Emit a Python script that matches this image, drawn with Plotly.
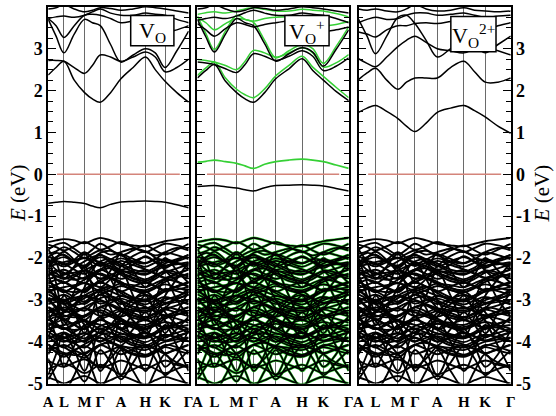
import plotly.graph_objects as go

# ---------------- data ----------------
k_pos = [0, 8, 16, 26.5, 37, 45, 53, 63.5, 74, 86.5, 99, 109, 119, 131, 143]
sym_pos = [0, 16, 37, 53, 74, 99, 119, 143]
sym_labels = ["A", "L", "M", "Γ", "A", "H", "K", "Γ"]
e_ticks = [-5, -4, -3, -2, -1, 0, 1, 2, 3, 4]
e_ticktext = ["-5", "-4", "-3", "-2", "-1", "0", "1", "2", "3", "4"]
fermi_k = [9, 134]
fermi_e = [0, 0]

# conduction bands, panel 1 (V_O)
cb_vo = [
    [2.37, 2.55, 2.70, 2.25, 1.95, 1.80, 1.72, 1.95, 2.28, 2.55, 2.80, 2.50, 2.22, 1.95, 1.72],
    [2.72, 2.72, 2.70, 2.55, 2.41, 2.60, 2.85, 2.80, 2.70, 2.80, 2.92, 2.80, 2.45, 2.55, 2.75],
    [3.70, 3.30, 2.90, 3.35, 3.70, 3.62, 3.55, 3.10, 2.68, 2.85, 3.00, 2.90, 2.55, 2.95, 3.42],
    [3.72, 3.55, 3.27, 3.55, 3.80, 3.82, 3.80, 3.72, 3.62, 3.66, 3.70, 3.55, 3.40, 3.45, 3.55],
    [3.72, 3.76, 3.78, 3.75, 3.80, 3.88, 3.95, 3.85, 3.80, 3.80, 3.85, 3.82, 3.80, 3.70, 3.62],
    [3.95, 3.98, 4.05, 3.95, 3.88, 3.92, 3.98, 3.96, 3.92, 3.95, 4.00, 3.98, 3.95, 3.90, 3.85],
]
# panel 2 (V_O^+), spin down (black) and spin up (green)
cb_vop_dn = [
    [2.30, 2.48, 2.62, 2.22, 1.95, 1.80, 1.72, 1.95, 2.28, 2.52, 2.76, 2.48, 2.25, 1.98, 1.76],
    [2.68, 2.66, 2.62, 2.52, 2.43, 2.62, 2.88, 2.82, 2.72, 2.82, 2.95, 2.82, 2.48, 2.58, 2.78],
    [3.70, 3.28, 2.92, 3.35, 3.72, 3.62, 3.55, 3.12, 2.70, 2.88, 3.02, 2.92, 2.58, 2.98, 3.45],
    [3.60, 3.45, 3.30, 3.48, 3.62, 3.58, 3.52, 3.58, 3.62, 3.66, 3.62, 3.50, 3.42, 3.45, 3.52],
    [3.68, 3.72, 3.75, 3.72, 3.78, 3.86, 3.92, 3.85, 3.80, 3.80, 3.85, 3.82, 3.80, 3.72, 3.62],
    [3.95, 3.98, 4.05, 3.95, 3.88, 3.92, 3.98, 3.96, 3.92, 3.95, 4.00, 3.98, 3.95, 3.90, 3.85],
]
cb_vop_up = [
    [2.36, 2.54, 2.68, 2.30, 2.03, 1.90, 1.83, 2.04, 2.35, 2.60, 2.82, 2.56, 2.34, 2.08, 1.83],
    [2.74, 2.72, 2.68, 2.60, 2.50, 2.70, 2.96, 2.90, 2.80, 2.90, 3.02, 2.90, 2.56, 2.66, 2.86],
    [3.78, 3.36, 2.98, 3.42, 3.80, 3.70, 3.63, 3.20, 2.78, 2.95, 3.10, 3.00, 2.65, 3.05, 3.52],
    [3.75, 3.62, 3.45, 3.60, 3.72, 3.70, 3.66, 3.72, 3.75, 3.76, 3.72, 3.62, 3.55, 3.58, 3.65],
    [3.82, 3.86, 3.88, 3.85, 3.90, 3.95, 3.98, 3.94, 3.90, 3.90, 3.94, 3.92, 3.90, 3.84, 3.76],
]
# panel 3 (V_O^2+)
cb_vo2 = [
    [1.48, 1.58, 1.64, 1.50, 1.33, 1.15, 1.02, 1.22, 1.48, 1.58, 1.64, 1.52, 1.37, 1.15, 0.98],
    [2.26, 2.42, 2.53, 2.25, 2.03, 2.20, 2.30, 2.30, 2.30, 2.55, 2.70, 2.45, 2.20, 2.20, 2.30],
    [2.76, 2.65, 2.57, 2.80, 3.05, 3.20, 3.30, 3.15, 3.00, 2.95, 2.90, 3.00, 3.05, 2.95, 2.85],
    [3.70, 3.30, 2.88, 3.30, 3.75, 3.80, 3.60, 3.20, 2.80, 3.00, 3.20, 3.10, 2.90, 3.10, 3.30],
    [3.40, 3.35, 3.28, 3.45, 3.55, 3.55, 3.60, 3.62, 3.60, 3.65, 3.70, 3.55, 3.45, 3.55, 3.62],
    [3.62, 3.70, 3.75, 3.70, 3.72, 3.80, 3.85, 3.85, 3.80, 3.82, 3.85, 3.80, 3.75, 3.78, 3.80],
    [3.95, 3.92, 3.95, 3.90, 3.88, 3.95, 4.05, 3.95, 3.90, 3.92, 3.98, 3.92, 3.90, 3.88, 3.90],
]

# defect levels in the gap
defect_vo = [-0.69, -0.67, -0.65, -0.67, -0.70, -0.76, -0.80, -0.72, -0.66, -0.65, -0.64, -0.65, -0.67, -0.73, -0.80]
defect_vop_dn = [-0.29, -0.28, -0.27, -0.30, -0.33, -0.37, -0.40, -0.32, -0.27, -0.26, -0.25, -0.26, -0.28, -0.34, -0.40]
defect_vop_up = [0.29, 0.31, 0.34, 0.30, 0.26, 0.20, 0.14, 0.24, 0.30, 0.34, 0.36, 0.34, 0.30, 0.22, 0.14]

# valence bands (host, common to all panels)
vb = [
    [-1.62, -1.58, -1.55, -1.58, -1.65, -1.58, -1.52, -1.58, -1.66, -1.70, -1.72, -1.66, -1.60, -1.56, -1.52],
    [-1.68, -1.74, -1.82, -1.72, -1.62, -1.70, -1.80, -1.72, -1.62, -1.74, -1.86, -1.76, -1.66, -1.70, -1.78],
    [-1.80, -1.68, -1.64, -1.78, -1.92, -1.80, -1.66, -1.80, -1.94, -1.82, -1.70, -1.82, -1.92, -1.80, -1.66],
    [-1.90, -1.84, -1.74, -1.86, -2.00, -1.90, -1.82, -1.92, -1.86, -1.78, -1.84, -1.94, -1.86, -1.76, -1.82],
    [-1.96, -2.06, -2.16, -2.04, -1.86, -2.00, -2.14, -2.04, -1.92, -2.02, -2.12, -2.02, -2.06, -2.14, -2.14],
    [-2.10, -1.98, -1.92, -2.10, -2.24, -2.08, -1.92, -2.12, -2.28, -2.16, -1.96, -2.10, -2.24, -2.06, -1.92],
    [-2.05, -2.13, -2.20, -2.10, -2.00, -2.10, -2.19, -2.11, -2.01, -2.11, -2.21, -2.11, -2.03, -2.11, -2.19],
    [-2.12, -2.04, -1.98, -2.10, -2.20, -2.08, -1.98, -2.08, -2.20, -2.08, -1.98, -2.08, -2.18, -2.08, -1.98],
    [-2.20, -2.15, -2.10, -2.05, -2.00, -2.05, -2.10, -2.20, -2.30, -2.35, -2.40, -2.30, -2.20, -2.15, -2.10],
    [-2.27, -2.37, -2.47, -2.52, -2.47, -2.37, -2.27, -2.17, -2.07, -2.17, -2.27, -2.37, -2.47, -2.37, -2.27],
    [-2.35, -2.43, -2.50, -2.40, -2.30, -2.40, -2.49, -2.41, -2.31, -2.41, -2.51, -2.41, -2.33, -2.41, -2.49],
    [-2.42, -2.34, -2.28, -2.40, -2.50, -2.38, -2.28, -2.38, -2.50, -2.38, -2.28, -2.38, -2.48, -2.38, -2.28],
    [-2.50, -2.45, -2.40, -2.35, -2.30, -2.35, -2.40, -2.50, -2.60, -2.65, -2.70, -2.60, -2.50, -2.45, -2.40],
    [-2.57, -2.67, -2.77, -2.82, -2.77, -2.67, -2.57, -2.47, -2.37, -2.47, -2.57, -2.67, -2.77, -2.67, -2.57],
    [-2.65, -2.73, -2.80, -2.70, -2.60, -2.70, -2.79, -2.71, -2.61, -2.71, -2.81, -2.71, -2.63, -2.71, -2.79],
    [-2.72, -2.64, -2.58, -2.70, -2.80, -2.68, -2.58, -2.68, -2.80, -2.68, -2.58, -2.68, -2.78, -2.68, -2.58],
    [-2.80, -2.75, -2.70, -2.65, -2.60, -2.65, -2.70, -2.80, -2.90, -2.95, -3.00, -2.90, -2.80, -2.75, -2.70],
    [-2.87, -2.97, -3.07, -3.12, -3.07, -2.97, -2.87, -2.77, -2.67, -2.77, -2.87, -2.97, -3.07, -2.97, -2.87],
    [-2.95, -3.03, -3.10, -3.00, -2.90, -3.00, -3.09, -3.01, -2.91, -3.01, -3.11, -3.01, -2.93, -3.01, -3.09],
    [-3.02, -2.94, -2.88, -3.00, -3.10, -2.98, -2.88, -2.98, -3.10, -2.98, -2.88, -2.98, -3.08, -2.98, -2.88],
    [-3.10, -3.05, -3.00, -2.95, -2.90, -2.95, -3.00, -3.10, -3.20, -3.25, -3.30, -3.20, -3.10, -3.05, -3.00],
    [-3.17, -3.27, -3.37, -3.42, -3.37, -3.27, -3.17, -3.07, -2.97, -3.07, -3.17, -3.27, -3.37, -3.27, -3.17],
    [-3.25, -3.33, -3.40, -3.30, -3.20, -3.30, -3.39, -3.31, -3.21, -3.31, -3.41, -3.31, -3.23, -3.31, -3.39],
    [-3.32, -3.24, -3.18, -3.30, -3.40, -3.28, -3.18, -3.28, -3.40, -3.28, -3.18, -3.28, -3.38, -3.28, -3.18],
    [-3.40, -3.35, -3.30, -3.25, -3.20, -3.25, -3.30, -3.40, -3.50, -3.55, -3.60, -3.50, -3.40, -3.35, -3.30],
    [-3.47, -3.57, -3.67, -3.72, -3.67, -3.57, -3.47, -3.37, -3.27, -3.37, -3.47, -3.57, -3.67, -3.57, -3.47],
    [-3.55, -3.63, -3.70, -3.60, -3.50, -3.60, -3.69, -3.61, -3.51, -3.61, -3.71, -3.61, -3.53, -3.61, -3.69],
    [-3.62, -3.54, -3.48, -3.60, -3.70, -3.58, -3.48, -3.58, -3.70, -3.58, -3.48, -3.58, -3.68, -3.58, -3.48],
    [-3.70, -3.65, -3.60, -3.55, -3.50, -3.55, -3.60, -3.70, -3.80, -3.85, -3.90, -3.80, -3.70, -3.65, -3.60],
    [-3.77, -3.87, -3.97, -4.02, -3.97, -3.87, -3.77, -3.67, -3.57, -3.67, -3.77, -3.87, -3.97, -3.87, -3.77],
    [-3.85, -3.93, -4.00, -3.90, -3.80, -3.90, -3.99, -3.91, -3.81, -3.91, -4.01, -3.91, -3.83, -3.91, -3.99],
    [-3.92, -3.84, -3.78, -3.90, -4.00, -3.88, -3.78, -3.88, -4.00, -3.88, -3.78, -3.88, -3.98, -3.88, -3.78],
    [-4.00, -3.95, -3.90, -3.85, -3.80, -3.85, -3.90, -4.00, -4.10, -4.15, -4.20, -4.10, -4.00, -3.95, -3.90],
    [-4.07, -4.17, -4.27, -4.32, -4.27, -4.17, -4.07, -3.97, -3.87, -3.97, -4.07, -4.17, -4.27, -4.17, -4.07],
    [-4.15, -4.23, -4.30, -4.20, -4.10, -4.20, -4.29, -4.21, -4.11, -4.21, -4.31, -4.21, -4.13, -4.21, -4.29],
    [-4.22, -4.14, -4.08, -4.20, -4.30, -4.18, -4.08, -4.18, -4.30, -4.18, -4.08, -4.18, -4.28, -4.18, -4.08],
    [-2.00, -2.60, -3.30, -2.80, -2.20, -2.70, -3.40, -2.90, -2.30, -2.90, -3.50, -3.00, -2.50, -3.00, -3.40],
    [-2.40, -2.90, -3.60, -3.20, -2.70, -2.30, -2.10, -2.50, -3.00, -3.50, -3.90, -3.40, -2.90, -2.50, -2.10],
    [-3.90, -3.40, -2.90, -3.30, -3.80, -3.30, -2.80, -3.20, -3.70, -3.30, -2.90, -3.30, -3.80, -3.30, -2.80],
    [-1.80, -2.10, -2.50, -2.20, -1.90, -2.20, -2.60, -2.30, -1.90, -2.30, -2.70, -2.40, -2.00, -2.30, -2.60],
    [-3.60, -3.50, -3.30, -3.10, -2.90, -2.80, -2.75, -2.90, -3.20, -3.50, -3.70, -3.50, -3.20, -2.95, -2.75],
    [-2.80, -2.90, -3.10, -3.30, -3.50, -3.70, -3.80, -3.60, -3.30, -3.00, -2.80, -3.00, -3.30, -3.60, -3.80],
    [-3.00, -3.20, -3.50, -3.80, -4.00, -3.70, -3.40, -3.70, -4.00, -3.70, -3.30, -3.60, -3.90, -3.70, -3.40],
    [-4.80, -4.30, -3.80, -4.20, -4.70, -4.20, -3.70, -4.20, -4.80, -4.20, -3.70, -4.10, -4.60, -4.30, -3.70],
    [-3.30, -3.90, -4.60, -4.10, -3.60, -4.00, -4.70, -4.30, -3.50, -4.00, -4.70, -4.20, -3.60, -4.10, -4.70],
    [-4.90, -4.60, -4.30, -4.60, -4.95, -4.60, -4.20, -4.50, -4.90, -4.50, -4.10, -4.40, -4.80, -4.50, -4.20],
    [-4.40, -4.90, -5.20, -4.80, -4.30, -4.70, -5.10, -4.70, -4.20, -4.70, -5.10, -4.70, -4.30, -4.70, -5.10],
    [-4.45, -4.55, -4.60, -4.50, -4.42, -4.52, -4.62, -4.55, -4.45, -4.55, -4.65, -4.55, -4.45, -4.55, -4.62],
    [-4.65, -4.58, -4.52, -4.62, -4.75, -4.66, -4.55, -4.65, -4.78, -4.66, -4.55, -4.65, -4.75, -4.65, -4.55],
    [-4.85, -4.92, -5.00, -4.90, -4.82, -4.90, -5.00, -4.92, -4.82, -4.92, -5.02, -4.92, -4.84, -4.92, -5.00],
    [-1.98, -1.88, -1.93, -2.08, -2.18, -2.03, -1.88, -1.83, -1.93, -2.08, -2.13, -2.03, -1.88, -1.93, -2.03],
    [-2.08, -2.28, -2.38, -2.23, -2.08, -1.98, -1.93, -2.03, -2.18, -2.33, -2.38, -2.28, -2.13, -2.03, -1.93],
    [-2.18, -2.08, -2.13, -2.28, -2.38, -2.23, -2.08, -2.03, -2.13, -2.28, -2.33, -2.23, -2.08, -2.13, -2.23],
    [-2.30, -2.50, -2.60, -2.45, -2.30, -2.20, -2.15, -2.25, -2.40, -2.55, -2.60, -2.50, -2.35, -2.25, -2.15],
    [-2.40, -2.30, -2.35, -2.50, -2.60, -2.45, -2.30, -2.25, -2.35, -2.50, -2.55, -2.45, -2.30, -2.35, -2.45],
    [-2.52, -2.72, -2.82, -2.67, -2.52, -2.42, -2.37, -2.47, -2.62, -2.77, -2.82, -2.72, -2.57, -2.47, -2.37],
    [-2.62, -2.52, -2.57, -2.72, -2.82, -2.67, -2.52, -2.47, -2.57, -2.72, -2.77, -2.67, -2.52, -2.57, -2.67],
    [-2.74, -2.94, -3.04, -2.89, -2.74, -2.64, -2.59, -2.69, -2.84, -2.99, -3.04, -2.94, -2.79, -2.69, -2.59],
    [-2.84, -2.74, -2.79, -2.94, -3.04, -2.89, -2.74, -2.69, -2.79, -2.94, -2.99, -2.89, -2.74, -2.79, -2.89],
    [-2.96, -3.16, -3.26, -3.11, -2.96, -2.86, -2.81, -2.91, -3.06, -3.21, -3.26, -3.16, -3.01, -2.91, -2.81],
    [-3.06, -2.96, -3.01, -3.16, -3.26, -3.11, -2.96, -2.91, -3.01, -3.16, -3.21, -3.11, -2.96, -3.01, -3.11],
    [-3.18, -3.38, -3.48, -3.33, -3.18, -3.08, -3.03, -3.13, -3.28, -3.43, -3.48, -3.38, -3.23, -3.13, -3.03],
    [-3.28, -3.18, -3.23, -3.38, -3.48, -3.33, -3.18, -3.13, -3.23, -3.38, -3.43, -3.33, -3.18, -3.23, -3.33],
    [-3.40, -3.60, -3.70, -3.55, -3.40, -3.30, -3.25, -3.35, -3.50, -3.65, -3.70, -3.60, -3.45, -3.35, -3.25],
    [-3.50, -3.40, -3.45, -3.60, -3.70, -3.55, -3.40, -3.35, -3.45, -3.60, -3.65, -3.55, -3.40, -3.45, -3.55],
    [-3.62, -3.82, -3.92, -3.77, -3.62, -3.52, -3.47, -3.57, -3.72, -3.87, -3.92, -3.82, -3.67, -3.57, -3.47],
    [-3.72, -3.62, -3.67, -3.82, -3.92, -3.77, -3.62, -3.57, -3.67, -3.82, -3.87, -3.77, -3.62, -3.67, -3.77],
    [-3.84, -4.04, -4.14, -3.99, -3.84, -3.74, -3.69, -3.79, -3.94, -4.09, -4.14, -4.04, -3.89, -3.79, -3.69],
    [-3.94, -3.84, -3.89, -4.04, -4.14, -3.99, -3.84, -3.79, -3.89, -4.04, -4.09, -3.99, -3.84, -3.89, -3.99],
    [-4.06, -4.26, -4.36, -4.21, -4.06, -3.96, -3.91, -4.01, -4.16, -4.31, -4.36, -4.26, -4.11, -4.01, -3.91],
    [-4.18, -4.08, -4.13, -4.28, -4.38, -4.23, -4.08, -4.03, -4.13, -4.28, -4.33, -4.23, -4.08, -4.13, -4.23],
    [-2.25, -2.00, -1.85, -2.05, -2.35, -2.60, -2.70, -2.50, -2.20, -1.95, -1.85, -2.00, -2.30, -2.55, -2.70],
    [-3.50, -3.20, -3.00, -3.30, -3.60, -3.90, -4.00, -3.80, -3.40, -3.10, -3.00, -3.20, -3.50, -3.80, -4.00],
    [-4.30, -4.00, -3.80, -4.00, -4.30, -4.50, -4.60, -4.40, -4.10, -3.90, -3.80, -4.00, -4.30, -4.50, -4.60],
]

panel_labels = ["V<sub>O</sub>", "V<sub>O</sub><sup>+</sup>", "V<sub>O</sub><sup>2+</sup>"]

# ---------------- layout / style ----------------
W, H = 556, 416
BLACK = "#000000"
GREEN = "#35d035"
FERMI = "#d4847a"
SERIF = "Liberation Serif"

# panel pixel extents (left, right), top & bottom
panels_px = [(44, 187), (196, 350), (360, 515)]
top_px, bot_px = 7, 393
box_px = [(128, 16, 172, 47), (285, 16, 330, 47), (454, 17, 500, 53)]


def px_x(x):
    return x / W


def px_y(y):
    return 1 - y / H


fig = go.Figure()


def add_band(i, e, color, width):
    ax = "" if i == 0 else str(i + 1)
    fig.add_trace(go.Scatter(
        x=k_pos, y=e, mode="lines", xaxis="x" + ax, yaxis="y" + ax,
        line=dict(color=color, width=width, shape="spline", smoothing=1.0),
        hoverinfo="skip", showlegend=False))


def add_fermi(i):
    ax = "" if i == 0 else str(i + 1)
    fig.add_trace(go.Scatter(
        x=fermi_k, y=fermi_e, mode="lines", xaxis="x" + ax, yaxis="y" + ax,
        line=dict(color=FERMI, width=1.6), hoverinfo="skip", showlegend=False))


# panel 1
for e in vb:
    add_band(0, e, BLACK, 1.9)
add_fermi(0)
for e in cb_vo:
    add_band(0, e, BLACK, 1.5)
add_band(0, defect_vo, BLACK, 1.5)

# panel 2
for e in vb:
    add_band(1, e, GREEN, 2.6)
for e in vb:
    add_band(1, e, BLACK, 1.6)
add_fermi(1)
for e in cb_vop_up:
    add_band(1, e, GREEN, 1.5)
for e in cb_vop_dn:
    add_band(1, e, BLACK, 1.5)
add_band(1, defect_vop_up, GREEN, 1.7)
add_band(1, defect_vop_dn, BLACK, 1.5)

# panel 3
for e in vb:
    add_band(2, e, BLACK, 1.9)
add_fermi(2)
for e in cb_vo2:
    add_band(2, e, BLACK, 1.5)

layout = dict(
    width=W, height=H,
    margin=dict(l=0, r=0, t=0, b=0),
    paper_bgcolor="white", plot_bgcolor="white",
    showlegend=False,
)

for i, (l, r) in enumerate(panels_px):
    ax = "" if i == 0 else str(i + 1)
    layout["xaxis" + ax] = dict(
        domain=[px_x(l), px_x(r)], anchor="y" + ax, range=[0, 143],
        tickmode="array", tickvals=sym_pos,
        ticktext=["<b>%s</b>" % s for s in sym_labels],
        ticks="", showgrid=True, gridcolor="#6a6a6a", gridwidth=1.1,
        zeroline=False, showline=True, mirror=True, linecolor=BLACK, linewidth=1.5,
        tickfont=dict(family=SERIF, size=15, color=BLACK),
        ticklabelstandoff=4,
    )
    yax = dict(
        domain=[px_y(bot_px), px_y(top_px)], anchor="x" + ax, range=[-5, 4],
        tickmode="array", tickvals=e_ticks,
        ticktext=["<b>%s</b>" % s for s in e_ticktext],
        ticks="inside", ticklen=8, tickwidth=1.2, tickcolor=BLACK,
        minor=dict(dtick=0.25, ticks="inside", ticklen=5, tickwidth=1, tickcolor=BLACK, showgrid=False),
        showgrid=False, zeroline=False, showline=True, mirror="ticks",
        linecolor=BLACK, linewidth=1.5,
        tickfont=dict(family=SERIF, size=18, color=BLACK),
        showticklabels=(i != 1),
    )
    if i == 2:
        yax["side"] = "right"
    layout["yaxis" + ax] = yax

shapes = []
annotations = []
for (x0, y0, x1, y1), lab in zip(box_px, panel_labels):
    shapes.append(dict(type="rect", xref="paper", yref="paper",
                       x0=px_x(x0), x1=px_x(x1), y0=px_y(y1), y1=px_y(y0),
                       line=dict(color=BLACK, width=1.5), fillcolor="white", layer="above"))
    annotations.append(dict(xref="paper", yref="paper",
                            x=px_x((x0 + x1) / 2), y=px_y((y0 + y1) / 2 + 1),
                            text=lab, showarrow=False, xanchor="center", yanchor="middle",
                            font=dict(family=SERIF, size=22, color=BLACK)))

for xp in (13, 547):
    annotations.append(dict(xref="paper", yref="paper", x=px_x(xp), y=px_y(198),
                            text="<i>E</i> (eV)", showarrow=False, textangle=-90,
                            xanchor="center", yanchor="middle",
                            font=dict(family=SERIF, size=21, color=BLACK)))

layout["shapes"] = shapes
layout["annotations"] = annotations
fig.update_layout(**layout)
fig.write_html("out.html")
